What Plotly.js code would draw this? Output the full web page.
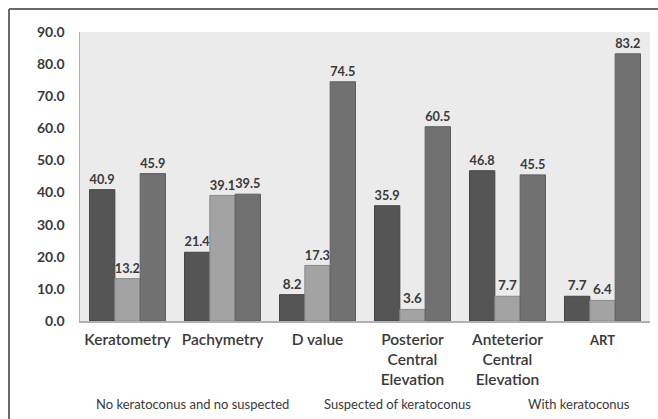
<!DOCTYPE html>
<html>
<head>
<meta charset="utf-8">
<script src="https://cdn.plot.ly/plotly-3.0.1.min.js"></script>
<style>html,body{margin:0;padding:0;background:#fff;}#chart{width:658px;height:419px;}</style>
</head>
<body>
<div id="chart"></div>
<script>
const categories = ["Keratometry", "Pachymetry", "D value", "Posterior<br>Central<br>Elevation", "Anteterior<br>Central<br>Elevation", "ART"];
const categoryLabels = ["Keratometry", "Pachymetry", "D value", "Posterior<br>Central<br>Elevation", "Anteterior<br>Central<br>Elevation", "<span style='font-size:13px;font-weight:bold'>ART</span>"];
const seriesNames = ["No keratoconus and no suspected", "Suspected of keratoconus", "With keratoconus"];
const noKeratoconus = [40.9, 21.4, 8.2, 35.9, 46.8, 7.7];
const suspected = [13.2, 39.1, 17.3, 3.6, 7.7, 6.4];
const withKeratoconus = [45.9, 39.5, 74.5, 60.5, 45.5, 83.2];
const yTicks = [0, 10, 20, 30, 40, 50, 60, 70, 80, 90];

const fills = ["#555555", "#a3a3a3", "#717171"];
const lines = ["#444444", "#8a8a8a", "#5e5e5e"];
const seriesValues = [noKeratoconus, suspected, withKeratoconus];
const fontFam = "Lato, 'Open Sans', sans-serif";

const traces = seriesValues.map((vals, i) => ({
  type: "bar",
  name: seriesNames[i],
  x: categories,
  y: vals,
  text: vals.map(v => v.toFixed(1)),
  textposition: "outside",
  cliponaxis: false,
  textfont: {family: fontFam, size: 13.5, color: "#3a3a3a", weight: 700},
  marker: {color: fills[i], line: {color: lines[i], width: 1}},
  hoverinfo: "skip"
}));

const W = 570, H = 289, L = 80, T = 32;
const px = x => (x - L) / W;
const py = y => 1 - (y - T) / H;

const layout = {
  width: 658, height: 419,
  margin: {l: L, r: 8, t: T, b: 98},
  paper_bgcolor: "#ffffff",
  plot_bgcolor: "#ebebeb",
  showlegend: false,
  barmode: "group",
  bargap: 0.2,
  bargroupgap: 0,
  font: {family: fontFam, color: "#3a3a3a"},
  xaxis: {
    type: "category",
    tickvals: categories,
    ticktext: categoryLabels,
    tickfont: {family: fontFam, size: 15.5, color: "#3a3a3a", weight: 600},
    ticks: "", ticklabelstandoff: 4,
    showline: true, linecolor: "#b0b0b0", linewidth: 1.5,
    showgrid: false, automargin: false
  },
  yaxis: {
    range: [0, 90],
    tickvals: yTicks,
    ticktext: yTicks.map(v => v.toFixed(1)),
    tickfont: {family: fontFam, size: 14, color: "#3a3a3a", weight: 700},
    ticks: "", ticklabelstandoff: 11,
    showline: true, linecolor: "#b0b0b0", linewidth: 1.5,
    showgrid: false, zeroline: false, automargin: false
  },
  annotations: [
    {text: seriesNames[0], x: px(192), y: py(404)},
    {text: seriesNames[1], x: px(397), y: py(404)},
    {text: seriesNames[2], x: px(579), y: py(404)}
  ].map(a => Object.assign(a, {xref: "paper", yref: "paper", showarrow: false,
    xanchor: "center", yanchor: "middle",
    font: {family: fontFam, size: 13, color: "#3a3a3a"}})),
  shapes: [
    {type: "line", xref: "paper", yref: "paper", x0: px(9), x1: px(658), y0: py(9), y1: py(9),
     line: {color: "#6a6a6a", width: 2}},
    {type: "line", xref: "paper", yref: "paper", x0: px(9), x1: px(9), y0: py(9), y1: py(419),
     line: {color: "#6a6a6a", width: 2}}
  ]
};

Plotly.newPlot("chart", traces, layout, {displayModeBar: false, staticPlot: true});
</script>
</body>
</html>
